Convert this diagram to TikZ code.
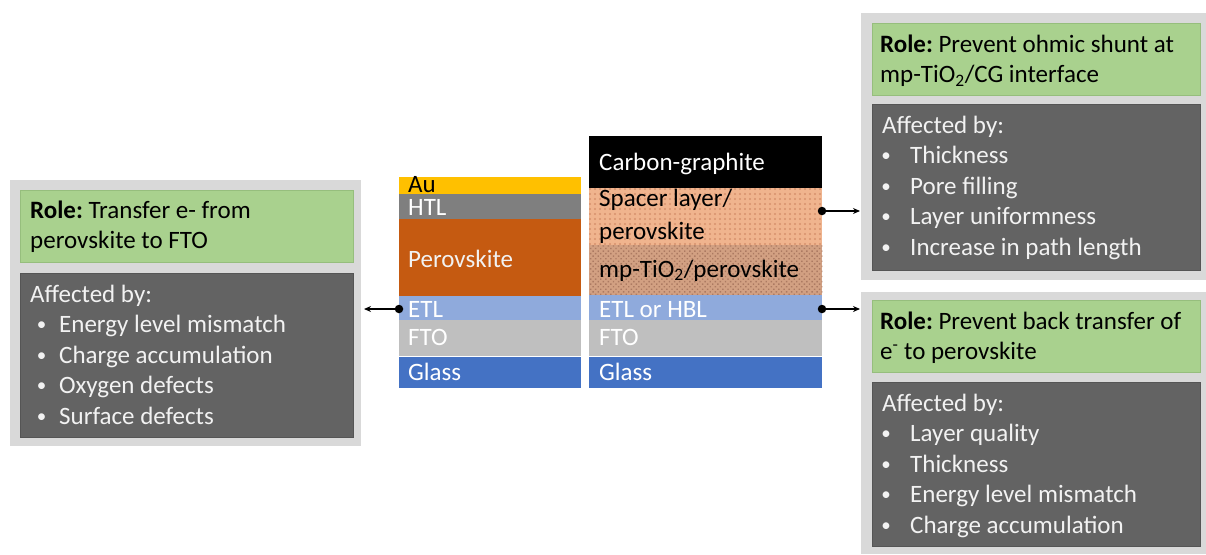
\documentclass[tikz,border=0pt]{standalone}
\usepackage{fontspec}
\setmainfont{Carlito}
\frenchspacing
\usetikzlibrary{patterns.meta,arrows.meta}

\definecolor{panelgray}{RGB}{217,217,217}
\definecolor{rolegreen}{RGB}{169,209,142}
\definecolor{rolegreenline}{RGB}{150,190,125}
\definecolor{darkbox}{RGB}{99,99,99}
\definecolor{darkboxline}{RGB}{85,85,85}
\definecolor{lighttext}{RGB}{242,242,242}
\definecolor{gold}{RGB}{255,192,0}
\definecolor{htlgray}{RGB}{127,127,127}
\definecolor{perovskite}{RGB}{197,90,17}
\definecolor{etlblue}{RGB}{143,170,220}
\definecolor{ftogray}{RGB}{191,191,191}
\definecolor{glassblue}{RGB}{68,114,196}
\definecolor{spacerbase}{RGB}{240,180,142}
\definecolor{spacerdot}{RGB}{215,145,108}
\definecolor{mpbase}{RGB}{210,160,130}
\definecolor{mpdot}{RGB}{172,122,98}

\newcommand{\smallbullet}{\raisebox{2pt}{\fontsize{19}{19}\selectfont\textbullet}}

\begin{document}
\begin{tikzpicture}[x=1pt,y=-1pt,
  txt/.style={anchor=base west, inner sep=0pt, font=\fontsize{25}{30}\selectfont},
  bul/.style={anchor=base, inner sep=0pt, font=\fontsize{25}{30}\selectfont},
  panel/.style={fill=panelgray, draw=none, anchor=north west, inner sep=0pt},
  rolebox/.style={fill=rolegreen, draw=rolegreenline, line width=0.6pt, anchor=north west, inner sep=0pt},
  affbox/.style={fill=darkbox, draw=darkboxline, line width=0.6pt, anchor=north west, inner sep=0pt},
  layer/.style={draw=none, anchor=north west, inner sep=0pt},
  conn/.style={line width=1.4pt, -{Stealth[length=7pt,width=6pt]}},
  pin/.style={circle, fill=black, inner sep=0pt, minimum size=8.5pt}
]
\useasboundingbox (0,0) rectangle (1206,554);

% ---------- layer stack: n-i-p cell ----------
\node[layer, fill=gold,       minimum width=182, minimum height=17] (au)   at (399,177) {};
\node[layer, fill=htlgray,    minimum width=182, minimum height=25] (htl)  at (399,194) {};
\node[layer, fill=perovskite, minimum width=182, minimum height=77] (pvk)  at (399,219) {};
\node[layer, fill=etlblue,    minimum width=182, minimum height=24] (etlA) at (399,296) {};
\node[layer, fill=ftogray,    minimum width=182, minimum height=36] (ftoA) at (399,320) {};
\node[layer, fill=glassblue,  minimum width=182, minimum height=31] (glA)  at (399,357) {};

\node[txt, text=black]      at (408,192.5) {Au};
\node[txt, text=white]      at (408,215.5) {HTL};
\node[txt, text=lighttext]  at (408,267) {Perovskite};
\node[txt, text=white]      at (408,317) {ETL};
\node[txt, text=white]      at (408,345) {FTO};
\node[txt, text=white]      at (408,380) {Glass};

% ---------- layer stack: carbon cell ----------
\node[layer, fill=black,      minimum width=233, minimum height=52] (cg)   at (589,136) {};
\node[layer, fill=spacerbase, minimum width=233, minimum height=57] (spc)  at (589,188) {};
\fill[pattern={Dots[distance=5pt, radius=1.2pt]}, pattern color=spacerdot]
  (spc.north west) rectangle (spc.south east);
\node[layer, fill=mpbase,     minimum width=233, minimum height=50] (mp)   at (589,245) {};
\fill[pattern={Dots[distance=3.6pt, radius=1pt, angle=45]}, pattern color=mpdot]
  (mp.north west) rectangle (mp.south east);
\node[layer, fill=etlblue,    minimum width=233, minimum height=25] (etlB) at (589,295) {};
\node[layer, fill=ftogray,    minimum width=233, minimum height=36] (ftoB) at (589,320) {};
\node[layer, fill=glassblue,  minimum width=233, minimum height=31] (glB)  at (589,357) {};

\node[txt, text=white] at (599,170) {Carbon-graphite};
\node[txt, text=black] at (599,206) {Spacer layer/};
\node[txt, text=black] at (599,239) {perovskite};
\node[txt, text=black] at (599,277) {mp-TiO\textsubscript{2}/perovskite};
\node[txt, text=white] at (599,317) {ETL or HBL};
\node[txt, text=white] at (599,345) {FTO};
\node[txt, text=white] at (599,380) {Glass};

% ---------- left panel: ETL ----------
\node[panel,   minimum width=351, minimum height=266] (pL)    at (10,180) {};
\node[rolebox, minimum width=333, minimum height=72]  (roleL) at (20,190) {};
\node[affbox,  minimum width=333, minimum height=164] (affL)  at (20,273) {};

\node[txt] at (30,218) {\textbf{Role:} Transfer e- from};
\node[txt] at (30,248.5) {perovskite to FTO};
\node[txt, text=lighttext] at (30,302) {Affected by:};
\foreach \y/\t in {332.6/Energy level mismatch, 363.2/Charge accumulation,
                   393.8/Oxygen defects, 424.4/Surface defects}{
  \node[bul, text=lighttext] at (41.5,\y) {\smallbullet};
  \node[txt, text=lighttext] at (59,\y) {\t};
}

% ---------- top-right panel: spacer layer ----------
\node[panel,   minimum width=345, minimum height=267] (pT)    at (861,13) {};
\node[rolebox, minimum width=328, minimum height=72]  (roleT) at (872,23) {};
\node[affbox,  minimum width=328, minimum height=166] (affT)  at (872,104) {};

\node[txt] at (880,52) {\textbf{Role:} Prevent ohmic shunt at};
\node[txt] at (880,82.5) {mp-TiO\textsubscript{2}/CG interface};
\node[txt, text=lighttext] at (882,133) {Affected by:};
\foreach \y/\t in {163.6/Thickness, 194.2/Pore filling,
                   224.8/Layer uniformness, 255.4/Increase in path length}{
  \node[bul, text=lighttext] at (886,\y) {\smallbullet};
  \node[txt, text=lighttext] at (910,\y) {\t};
}

% ---------- bottom-right panel: ETL / HBL ----------
\node[panel,   minimum width=345, minimum height=262] (pB)    at (861,292) {};
\node[rolebox, minimum width=328, minimum height=72]  (roleB) at (872,300) {};
\node[affbox,  minimum width=328, minimum height=164] (affB)  at (872,382) {};

\node[txt] at (880,329) {\textbf{Role:} Prevent back transfer of};
\node[txt] at (880,359.5) {e\textsuperscript{-} to perovskite};
\node[txt, text=lighttext] at (882,411) {Affected by:};
\foreach \y/\t in {441.6/Layer quality, 472.2/Thickness,
                   502.8/Energy level mismatch, 533.4/Charge accumulation}{
  \node[bul, text=lighttext] at (886,\y) {\smallbullet};
  \node[txt, text=lighttext] at (910,\y) {\t};
}

% ---------- connectors ----------
\node[pin] (dotL)  at (399,309) {};
\node[pin] (dotT)  at (822,211) {};
\node[pin] (dotB)  at (822,309) {};
\coordinate (endL) at (364,309);
\coordinate (endT) at (860,211);
\coordinate (endB) at (860,309);
\draw[conn] (dotL.center) -- (endL);
\draw[conn] (dotT.center) -- (endT);
\draw[conn] (dotB.center) -- (endB);
\end{tikzpicture}
\end{document}
